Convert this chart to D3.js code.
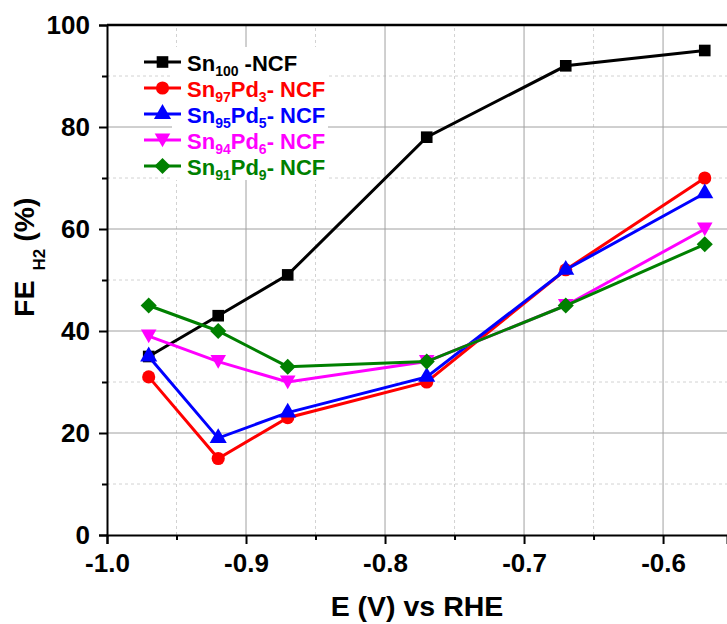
<!DOCTYPE html>
<meta charset="utf-8">
<style>
html, body { margin: 0; background: #fff; overflow: hidden; }
text { font-family: "Liberation Sans", Arial, sans-serif; font-weight: bold; }
</style>
<body>
<script src="https://cdn.jsdelivr.net/npm/d3@7"></script>
<script>
var width = 727, height = 624;
var margin = {top: 25, right: 0, bottom: 89, left: 107};

var potentials = [-0.97, -0.92, -0.87, -0.77, -0.67, -0.57];
var sn100 = [35, 43, 51, 78, 92, 95];
var sn97pd3 = [31, 15, 23, 30, 52, 70];
var sn95pd5 = [35, 19, 24, 31, 52, 67];
var sn94pd6 = [39, 34, 30, 34, 45, 60];
var sn91pd9 = [45, 40, 33, 34, 45, 57];
var xTicks = [-1.0, -0.9, -0.8, -0.7, -0.6];
var yTicks = [0, 20, 40, 60, 80, 100];

var series = [
  {base: "Sn", sub1: "100", mid: "", sub2: "", tail: " -NCF", color: "#000000", symbol: d3.symbolSquare, values: sn100},
  {base: "Sn", sub1: "97", mid: "Pd", sub2: "3", tail: "- NCF", color: "#ff0000", symbol: d3.symbolCircle, values: sn97pd3},
  {base: "Sn", sub1: "95", mid: "Pd", sub2: "5", tail: "- NCF", color: "#0000ff", symbol: d3.symbolTriangle, values: sn95pd5},
  {base: "Sn", sub1: "94", mid: "Pd", sub2: "6", tail: "- NCF", color: "#ff00ff", symbol: "down", values: sn94pd6},
  {base: "Sn", sub1: "91", mid: "Pd", sub2: "9", tail: "- NCF", color: "#008000", symbol: "diamond", values: sn91pd9}
];

var x = d3.scaleLinear().domain([-1.0, -0.554]).range([margin.left, width - margin.right]);
var y = d3.scaleLinear().domain([0, 100]).range([height - margin.bottom, margin.top]);

var svg = d3.select("body").append("svg")
  .attr("width", width)
  .attr("height", height);

// grid: minor dashed, major solid
var minorX = [-0.95, -0.85, -0.75, -0.65, -0.55];
var minorY = [10, 30, 50, 70, 90];
svg.append("g").selectAll("line").data(minorX).enter().append("line")
  .attr("x1", d => x(d)).attr("x2", d => x(d))
  .attr("y1", y(0)).attr("y2", y(100))
  .attr("stroke", "#d2d2d2").attr("stroke-dasharray", "3,3");
svg.append("g").selectAll("line").data(minorY).enter().append("line")
  .attr("x1", x(-1.0)).attr("x2", width)
  .attr("y1", d => y(d)).attr("y2", d => y(d))
  .attr("stroke", "#d2d2d2").attr("stroke-dasharray", "3,3");
svg.append("g").selectAll("line").data(xTicks.slice(1)).enter().append("line")
  .attr("x1", d => x(d)).attr("x2", d => x(d))
  .attr("y1", y(0)).attr("y2", y(100))
  .attr("stroke", "#a0a0a0");
svg.append("g").selectAll("line").data(yTicks.slice(1, 5)).enter().append("line")
  .attr("x1", x(-1.0)).attr("x2", width)
  .attr("y1", d => y(d)).attr("y2", d => y(d))
  .attr("stroke", "#a0a0a0");

// legend background (hides grid behind the labels)
svg.append("rect")
  .attr("x", 172).attr("y", 47).attr("width", 156).attr("height", 133)
  .attr("fill", "#fff");

// axes
var xAxis = d3.axisBottom(x).tickValues(xTicks).tickSize(9).tickPadding(10)
  .tickFormat(d => d3.format(".1f")(d).replace("−", "-"));
var gx = svg.append("g").attr("transform", "translate(0," + y(0) + ")").call(xAxis);
gx.select(".domain").attr("stroke-width", 2);
gx.selectAll(".tick line").attr("stroke-width", 2);
gx.selectAll("text").attr("font-size", 26).attr("fill", "#000");
svg.append("g").attr("transform", "translate(0," + y(0) + ")")
  .call(d3.axisBottom(x).tickValues(minorX.slice(0, 4)).tickSize(5).tickFormat(""))
  .call(g => g.select(".domain").remove())
  .selectAll("line").attr("stroke-width", 2);

var yAxis = d3.axisLeft(y).tickValues(yTicks).tickSize(8).tickPadding(9);
var gy = svg.append("g").attr("transform", "translate(" + x(-1.0) + ",0)").call(yAxis);
gy.select(".domain").attr("stroke-width", 2);
gy.selectAll(".tick line").attr("stroke-width", 2);
gy.selectAll("text").attr("font-size", 26).attr("fill", "#000");
svg.append("g").attr("transform", "translate(" + x(-1.0) + ",0)")
  .call(d3.axisLeft(y).tickValues(minorY).tickSize(5).tickFormat(""))
  .call(g => g.select(".domain").remove())
  .selectAll("line").attr("stroke-width", 2);

// top frame
svg.append("line")
  .attr("x1", x(-1.0)).attr("x2", width)
  .attr("y1", y(100)).attr("y2", y(100))
  .attr("stroke", "#000").attr("stroke-width", 2.5);

function marker(sym, size) {
  if (sym === "down") {
    return "M0," + (size * 0.55) + "L" + (-size * 0.6) + "," + (-size * 0.5) + "L" + (size * 0.6) + "," + (-size * 0.5) + "Z";
  }
  if (sym === "diamond") {
    return "M0," + (-size * 0.62) + "L" + (size * 0.62) + ",0L0," + (size * 0.62) + "L" + (-size * 0.62) + ",0Z";
  }
  var area = sym === d3.symbolSquare ? size * size * 0.8 : sym === d3.symbolCircle ? size * size * 0.8 : size * size * 0.75;
  return d3.symbol().type(sym).size(area)();
}

var line = d3.line()
  .x((d, i) => x(potentials[i]))
  .y(d => y(d));

var plot = svg.append("g");
series.forEach(function(s) {
  plot.append("path")
    .datum(s.values)
    .attr("d", line)
    .attr("fill", "none")
    .attr("stroke", s.color)
    .attr("stroke-width", 3);
  plot.selectAll(null).data(s.values).enter().append("path")
    .attr("d", marker(s.symbol, 13))
    .attr("transform", (d, i) => "translate(" + x(potentials[i]) + "," + y(d) + ")")
    .attr("fill", s.color);
});

// legend
var legend = svg.append("g");
series.forEach(function(s, i) {
  var ly = 62 + i * 26;
  var g = legend.append("g").attr("transform", "translate(0," + ly + ")");
  g.append("line").attr("x1", 144).attr("x2", 181).attr("stroke", s.color).attr("stroke-width", 3);
  g.append("path").attr("d", marker(s.symbol, 13)).attr("transform", "translate(162.5,0)").attr("fill", s.color);
  var t = g.append("text").attr("x", 187).attr("y", 9).attr("font-size", 22).attr("fill", s.color);
  t.append("tspan").text(s.base);
  t.append("tspan").attr("font-size", 14).attr("dy", 5).text(s.sub1);
  if (s.mid) {
    t.append("tspan").attr("dy", -5).text(s.mid);
    t.append("tspan").attr("font-size", 14).attr("dy", 5).text(s.sub2);
  }
  t.append("tspan").attr("dy", -5).text(s.tail);
});

// axis titles
svg.append("text")
  .attr("x", (x(-1.0) + width) / 2)
  .attr("y", 616)
  .attr("text-anchor", "middle")
  .attr("font-size", 28.5)
  .text("E (V) vs RHE");

var yt = svg.append("text")
  .attr("transform", "translate(34,317) rotate(-90)")
  .attr("font-size", 28.5);
yt.append("tspan").text("FE");
yt.append("tspan").attr("font-size", 17).attr("dy", 11).attr("dx", 10).text("H2");
yt.append("tspan").attr("dy", -11).attr("dx", 7).text("(%)");
</script>
</body>
